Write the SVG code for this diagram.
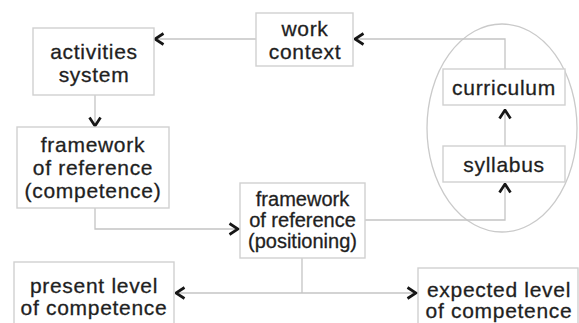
<svg xmlns="http://www.w3.org/2000/svg" width="579" height="323" viewBox="0 0 579 323">
  <style>
    .box { fill: #ffffff; stroke: #d0d0d0; stroke-width: 1.4; }
    .lbl { font-family: "Liberation Sans", Arial, sans-serif; font-size: 21px; fill: #1f1f1f; stroke: #1f1f1f; stroke-width: 0.3; text-anchor: middle; letter-spacing: 0.7px; }
    .lbl2 { font-family: "Liberation Sans", Arial, sans-serif; font-size: 20px; fill: #1f1f1f; stroke: #1f1f1f; stroke-width: 0.3; text-anchor: middle; }
    .link { fill: none; stroke: #c4c4c4; stroke-width: 1.3; }
    .oval { fill: none; stroke: #cacaca; stroke-width: 1.3; }
  </style>
  <defs>
    <marker id="chev" viewBox="0 0 12 14" refX="10.5" refY="7" markerWidth="12" markerHeight="14" markerUnits="userSpaceOnUse" orient="auto-start-reverse">
      <path d="M2,1.5 L10.5,7 L2,12.5" fill="none" stroke="#161616" stroke-width="2.7" stroke-linejoin="miter"/>
    </marker>
  </defs>
  <rect width="579" height="323" fill="#ffffff"/>

  <!-- grouping oval around curriculum and syllabus -->
  <ellipse class="oval" cx="502" cy="128" rx="75" ry="104"/>

  <g id="connectors">
    <path class="link" d="M256,39 H155" marker-end="url(#chev)"/>
    <path class="link" d="M505,69 V39 H355" marker-end="url(#chev)"/>
    <path class="link" d="M95,95 V126" marker-end="url(#chev)"/>
    <path class="link" d="M95,208 V229 H238" marker-end="url(#chev)"/>
    <path class="link" d="M365,220 H505 V184" marker-end="url(#chev)"/>
    <path class="link" d="M505,146 V110" marker-end="url(#chev)"/>
    <path class="link" d="M302,258 V293"/>
    <path class="link" d="M176,293 H416" marker-start="url(#chev)" marker-end="url(#chev)"/>
  </g>

  <g id="work-context">
    <rect class="box" x="256" y="13" width="97" height="53"/>
    <text class="lbl" x="305" y="36">work</text>
    <text class="lbl" x="305" y="59">context</text>
  </g>

  <g id="activities-system">
    <rect class="box" x="33" y="28" width="121" height="67"/>
    <text class="lbl" x="94" y="59">activities</text>
    <text class="lbl" x="94" y="82">system</text>
  </g>

  <g id="framework-competence">
    <rect class="box" x="17" y="127" width="152" height="81"/>
    <text class="lbl" x="93" y="152">framework</text>
    <text class="lbl" x="93" y="175">of reference</text>
    <text class="lbl" x="93" y="198">(competence)</text>
  </g>

  <g id="framework-positioning">
    <rect class="box" x="240" y="183" width="125" height="75"/>
    <text class="lbl2" x="302.5" y="206">framework</text>
    <text class="lbl2" x="302.5" y="227">of reference</text>
    <text class="lbl2" x="302.5" y="248">(positioning)</text>
  </g>

  <g id="curriculum">
    <rect class="box" x="443" y="69" width="122" height="36"/>
    <text class="lbl" x="504" y="95">curriculum</text>
  </g>

  <g id="syllabus">
    <rect class="box" x="443" y="146" width="122" height="36"/>
    <text class="lbl" x="504" y="172">syllabus</text>
  </g>

  <g id="present-level">
    <rect class="box" x="14" y="262" width="160" height="70"/>
    <text class="lbl" x="94" y="293">present level</text>
    <text class="lbl" x="94" y="315">of competence</text>
  </g>

  <g id="expected-level">
    <rect class="box" x="418" y="268" width="160" height="64"/>
    <text class="lbl" x="499" y="297">expected level</text>
    <text class="lbl" x="499" y="318">of competence</text>
  </g>
</svg>
